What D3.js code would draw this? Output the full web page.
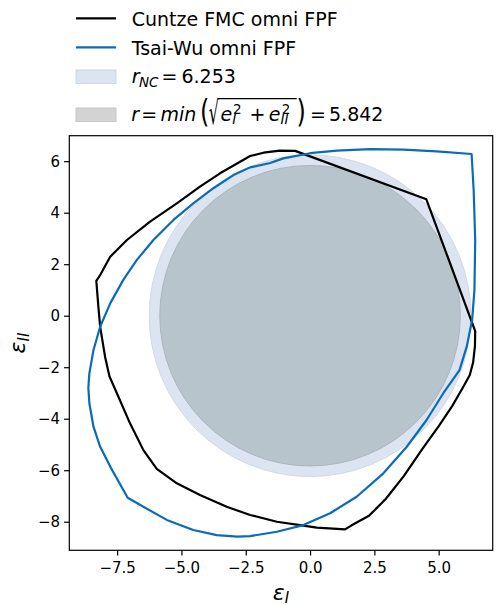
<!DOCTYPE html>
<html><head><meta charset="utf-8">
<script src="https://cdn.jsdelivr.net/npm/d3@7"></script>
<style>body{margin:0;background:#fff} svg{display:block} text{font-family:"DejaVu Sans",sans-serif;fill:#000}</style>
</head><body><svg id="c" width="496" height="605"></svg>
<script>
// ---- data ----
const xTicks = [-7.5, -5, -2.5, 0, 2.5, 5];
const yTicks = [-8, -6, -4, -2, 0, 2, 4, 6];
const rNC = 6.253;
const rMin = 5.842;
const cuntzePts = [
  [-0.58,6.40],[-1.17,6.41],[-1.81,6.33],[-2.33,6.20],[-2.72,5.98],[-3.50,5.53],[-4.28,5.01],
  [-5.18,4.36],[-6.22,3.65],[-7.12,2.94],[-7.77,2.29],[-8.16,1.58],[-8.31,1.35],[-8.23,0.35],
  [-8.16,-0.43],[-7.97,-1.59],[-7.80,-2.35],[-7.51,-3.01],[-7.00,-4.18],[-6.48,-5.22],[-5.96,-5.95],
  [-5.18,-6.51],[-4.28,-6.96],[-3.24,-7.42],[-2.33,-7.74],[-1.29,-8.00],[-0.39,-8.13],[0.26,-8.23],
  [1.36,-8.30],[1.60,-8.15],[2.29,-7.77],[2.94,-7.12],[3.65,-6.22],[4.36,-5.18],[5.01,-4.28],
  [5.53,-3.50],[5.98,-2.72],[6.21,-2.30],[6.34,-1.81],[6.41,-1.17],[6.42,-0.60],[4.52,4.52]
];
const tsaiPts = [
  [6.28,6.28],[4.92,6.38],[3.63,6.45],[2.33,6.47],[1.04,6.41],[0.00,6.31],[-1.04,6.11],[-1.55,5.93],
  [-2.33,5.76],[-2.98,5.46],[-3.76,4.95],[-4.54,4.36],[-5.31,3.72],[-6.09,2.94],[-6.74,2.16],
  [-7.26,1.39],[-7.77,0.48],[-8.16,-0.43],[-8.42,-1.33],[-8.58,-2.24],[-8.62,-2.80],[-8.58,-3.40],
  [-8.42,-4.31],[-8.16,-5.09],[-7.77,-5.86],[-7.09,-7.07],[-6.48,-7.42],[-5.57,-7.93],[-4.54,-8.32],
  [-3.63,-8.52],[-2.83,-8.58],[-2.33,-8.56],[-1.29,-8.39],[-0.26,-8.13],[0.78,-7.67],[1.81,-7.03],
  [2.85,-6.12],[3.76,-5.09],[4.53,-4.05],[5.18,-3.01],[5.81,-2.11],[6.09,-1.20],[6.30,-0.17],
  [6.39,1.00],[6.42,2.94],[6.36,4.88],[6.28,6.28]
];
const seriesNames = ["Cuntze FMC omni FPF", "Tsai-Wu omni FPF"];
const seriesColors = ["#000000", "#0a6cb8"];

// ---- layout ----
const svg = d3.select("#c");
const L = 69.3, R = 492.7, T = 135.7, B = 550.3;
const x = d3.scaleLinear().domain([-9.36, 7.10]).range([L, R]);
const y = d3.scaleLinear().domain([-9.11, 6.99]).range([B, T]);
const pxPerUnit = x(1) - x(0);

const plot = svg.append("g");
plot.append("defs").append("clipPath").attr("id","clip")
  .append("rect").attr("x",L).attr("y",T).attr("width",R-L).attr("height",B-T);
const inner = plot.append("g").attr("clip-path","url(#clip)");

// circles
inner.append("circle").attr("cx", x(0)).attr("cy", y(0)).attr("r", rNC*pxPerUnit)
  .attr("fill","#dbe4f0").attr("stroke","#cfd9e7").attr("stroke-width",1);
inner.append("circle").attr("cx", x(0)).attr("cy", y(0)).attr("r", rMin*pxPerUnit)
  .attr("fill","#b8c4cc").attr("stroke","#a9b5bf").attr("stroke-width",1);

// curves
const line = d3.line().x(d=>x(d[0])).y(d=>y(d[1])).curve(d3.curveLinearClosed);
[cuntzePts, tsaiPts].forEach((pts,i)=>{
  inner.append("path").attr("d", line(pts)).attr("fill","none")
    .attr("stroke", seriesColors[i]).attr("stroke-width",2.2).attr("stroke-linejoin","round");
});

// axes
const xAxis = d3.axisBottom(x).tickValues(xTicks).tickFormat(d3.format(".1f")).tickSize(5.25).tickPadding(3);
const yAxis = d3.axisLeft(y).tickValues(yTicks).tickFormat(d3.format("d")).tickSize(5.25).tickPadding(4);
const gx = svg.append("g").attr("transform",`translate(0,${B})`).call(xAxis);
const gy = svg.append("g").attr("transform",`translate(${L},0)`).call(yAxis);
[gx,gy].forEach(g=>{
  g.select(".domain").remove();
  g.selectAll(".tick line").attr("stroke","#000").attr("stroke-width",1.2);
  g.selectAll(".tick text").style("font-size","15px").style("font-family","DejaVu Sans").attr("fill","#000");
});
gx.selectAll(".tick text").attr("dy","0.71em").attr("y", 5.25+6.5);
svg.append("rect").attr("x",L).attr("y",T).attr("width",R-L).attr("height",B-T)
  .attr("fill","none").attr("stroke","#000").attr("stroke-width",1.2);

// axis labels
const xl = svg.append("text").attr("x",(L+R)/2).attr("y",599.5).attr("text-anchor","middle")
  .style("font-size","22px");
xl.append("tspan").style("font-style","italic").text("ε");
xl.append("tspan").style("font-style","italic").style("font-size","15px").attr("dy",3).text("I");
const yl = svg.append("text").attr("transform",`translate(25,${(T+B)/2}) rotate(-90)`).attr("text-anchor","middle")
  .style("font-size","22px");
yl.append("tspan").style("font-style","italic").text("ε");
yl.append("tspan").style("font-style","italic").style("font-size","15px").attr("dy",4).text("II");

// ---- legend ----
const lg = svg.append("g");
const lineY = [18.3, 47.3];
const textX = 131.7;
seriesNames.forEach((n,i)=>{
  lg.append("line").attr("x1",76).attr("x2",116).attr("y1",lineY[i]).attr("y2",lineY[i])
    .attr("stroke",seriesColors[i]).attr("stroke-width",2.2);
  lg.append("text").attr("x",textX).attr("y",lineY[i]+8).style("font-size","19px").text(n);
});
lg.append("rect").attr("x",76).attr("y",70).attr("width",40).attr("height",13.5)
  .attr("fill","#dbe4f0").attr("stroke","#cdd8e6").attr("stroke-width",1);
lg.append("rect").attr("x",76).attr("y",108).attr("width",40).attr("height",13.5)
  .attr("fill","#d3d3d3").attr("stroke","#c8c8c8").attr("stroke-width",1);

function piece(g, px, base, t, opt={}){
  return g.append("text").attr("x",px).attr("y",base).text(t)
    .style("font-size",(opt.fs||19)+"px").style("font-style",opt.it?"italic":"normal");
}
// e with stacked subscript / superscript in one text element
function subsup(g, px, base, sub, supX){
  const t = g.append("text").attr("x",px).attr("y",base).style("font-size","19px");
  t.append("tspan").style("font-style","italic").text("e");
  t.append("tspan").style("font-style","italic").style("font-size","13.5px").attr("dy",3.2).text(sub);
  t.append("tspan").style("font-size","13.5px").attr("x",supX).attr("dy",-10).text("2");
}
// fit a glyph (as real text) into a target ink box using canvas metrics
const ctx = document.createElement("canvas").getContext("2d");
function fitGlyph(g, ch, x0, x1, y0, y1){
  ctx.font = '100px "DejaVu Sans"';
  const m = ctx.measureText(ch);
  const left = -m.actualBoundingBoxLeft, right = m.actualBoundingBoxRight;
  const asc = m.actualBoundingBoxAscent, desc = m.actualBoundingBoxDescent;
  const sx = (x1-x0)/(right-left), sy = (y1-y0)/(asc+desc);
  const tx = x0 - left*sx, ty = y0 + asc*sy;
  g.append("text").attr("transform",`translate(${tx},${ty}) scale(${sx},${sy})`)
    .style("font-size","100px").text(ch);
}
// r_NC = 6.253
(function(){
  const base = 83.3;
  const t = lg.append("text").attr("x",textX).attr("y",base).style("font-size","19px");
  t.append("tspan").style("font-style","italic").text("r");
  t.append("tspan").style("font-style","italic").style("font-size","13.5px").attr("dx",-0.5).attr("dy",4).text("NC");
  t.append("tspan").attr("dx",3).attr("dy",-4).text("=");
  t.append("tspan").attr("dx",4).text("6.253");
})();
// r = min(sqrt(e_I^2 + e_II^2)) = 5.842
(function(){
  const base = 120.5;
  piece(lg, 131.2, base, "r", {it:true});
  piece(lg, 141.2, base, "=");
  piece(lg, 160.5, base, "min", {it:true});
  fitGlyph(lg, "(", 201.8, 207.3, 98.7, 126.5);
  fitGlyph(lg, "√", 209, 218.8, 98, 125.3);
  lg.append("line").attr("x1",218.2).attr("x2",296.7).attr("y1",98.6).attr("y2",98.6)
    .attr("stroke","#000").attr("stroke-width",1.2);
  subsup(lg, 220.5, base, "I", 233);
  piece(lg, 249.6, base, "+");
  subsup(lg, 268.8, base, "II", 281.7);
  fitGlyph(lg, ")", 298.3, 303.8, 98.7, 126.5);
  piece(lg, 310, base, "=");
  piece(lg, 329, base, "5.842");
})();
</script></body></html>
